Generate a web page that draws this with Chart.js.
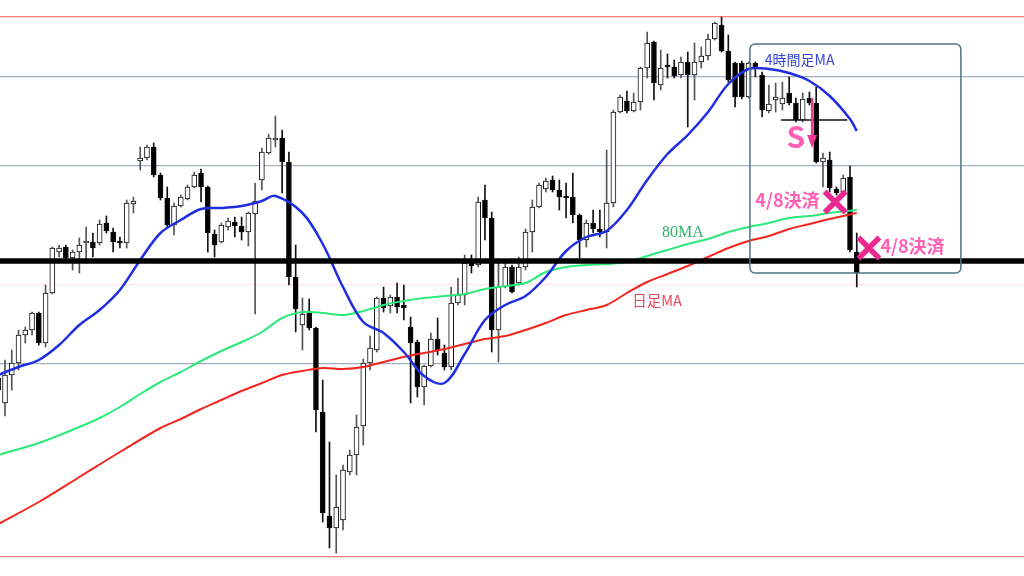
<!DOCTYPE html>
<html lang="ja">
<head>
<meta charset="utf-8">
<title>4時間足チャート</title>
<script src="https://cdn.jsdelivr.net/npm/chart.js@4.4.1/dist/chart.umd.min.js"></script>
<style>
  html, body { margin: 0; padding: 0; background: #fff; }
  canvas { display: block; }
</style>
</head>
<body>
<canvas id="chart" width="1024" height="576"></canvas>
<script>
// 4h candles, oldest first (price units = chart height)
const OPEN = [186,173,201,213,241,246,263,233,283,324, 329,318,324,333,334,333,353,344,335,333,
  372,415,418,429,401,378,351,370,377,389, 403,389,342,334,349,354,350,344,362,396,
  423,436,438,414,299,251,263,248,164,60, 48,56,104,121,150,213,226,278,270,279,
  271,249,234,189,210,237,223,209,273,281, 313,311,376,358,246,289,309,293,309,344,
  369,387,396,386,380,379,361,336,353,347, 344,373,464,475,465,474,508,534,491,511,
  509,501,514,501,514,520,537,551,525,513, 513,479,513,501,465,476,472,483,473,456,
  478,473,414,416,387,384,399,324];
const HIGH = [208,216,226,246,249,264,264,291,329,331, 331,326,338,349,343,356,360,348,339,376,
  379,429,431,433,403,389,373,381,391,404, 407,390,346,353,358,359,359,364,393,428,
  442,460,446,424,331,278,277,249,196,134, 101,111,126,161,217,240,279,289,281,293,
  291,259,236,211,243,258,231,289,298,321, 321,379,391,364,316,316,311,319,347,376,
  393,398,400,396,393,403,362,356,366,366, 426,466,481,485,483,509,544,535,526,522,
  516,519,524,533,529,542,554,559,541,514, 515,514,514,504,491,493,494,499,478,483,
  484,489,423,424,389,401,410,343];
const LOW = [178,160,186,206,233,241,231,229,282,319, 316,306,303,313,319,331,343,324,328,328,
  363,406,416,399,376,349,341,369,376,388, 374,324,319,333,346,339,336,330,262,386,
  422,429,383,291,244,226,246,144,54,28, 23,46,101,101,131,206,224,264,263,263,
  256,173,179,171,209,221,206,206,271,271, 303,309,336,224,214,288,283,291,306,324,
  368,384,384,366,358,353,318,329,343,339, 328,369,463,463,464,466,498,476,486,498,
  498,498,449,476,508,516,536,524,494,469, 477,478,499,459,463,464,466,471,454,454,
  471,413,389,384,381,381,324,289];
const CLOSE = [198,201,213,241,246,263,233,283,328,328, 318,324,331,335,328,352,345,334,333,373,
  375,418,429,401,378,351,370,379,389,401, 389,343,331,351,355,350,344,363,375,424,
  438,438,414,299,267,262,248,166,63,48, 69,106,121,149,213,228,278,268,279,269,
  268,233,189,210,237,226,209,273,281,313, 310,374,358,246,289,309,284,309,344,369,
  391,395,386,379,378,361,336,353,347,344, 373,464,479,465,474,508,533,493,508,509,
  500,514,501,514,520,537,553,525,496,479, 479,513,509,466,472,479,478,473,456,477,
  473,414,418,388,383,398,326,303];

// moving averages, read at candle indices
const MA4H_IDX = [0,3,6,9,12,15,18,21,24,27,30,33,36,39,41,45,48,51,54,57,60,63,66,69,72,75,78,81,84,87,90,93,96,99,102,105,108,111,114,117,120,123,126,127];
const MA4H_VAL = [201,209,216,231,251,266,286,316,343,356,367,368,370,375,380,363,332,289,254,243,224,200,193,222,256,271,280,299,325,339,345,366,396,422,441,464,492,507,507,503,495,480,457,445];
const MA80_IDX = [0,6,12,15,18,21,24,27,30,33,36,39,42,45,48,51,54,57,60,63,66,69,72,75,78,81,84,87,90,93,96,99,102,105,108,111,114,117,120,123,127];
const MA80_VAL = [121,133,149,158,169,182,194,204,215,225,234,244,258,264,263,261,265,271,275,278,280,282,287,290,293,304,309,311,312,314,320,326,332,337,344,349,353,358,360,363,366];
const MADAY_IDX = [0,6,12,18,24,27,30,33,36,39,42,45,48,51,54,57,60,63,66,69,72,75,78,81,84,87,90,93,96,99,102,105,108,111,114,117,120,123,127];
const MADAY_VAL = [52,74,99,124,148,157,167,176,185,193,201,205,208,207,209,214,219,223,227,232,237,240,246,253,261,266,271,283,294,302,310,319,328,335,340,347,352,357,363];

// horizontal levels
const H_LINES = [559, 499, 410, 291, 212, 19];
const H_COLORS = ['#ff7d7d', '#a4aebc', '#a4aebc', '#fbe7ec', '#a4aebc', '#ff7d7d'];
const KEY_LEVEL = 315;

const X_MIN = 0.26, X_MAX = 151.74;
const Y_MIN = 0, Y_MAX = 576;

const bodies = OPEN.map((o, i) => ({ x: i, y: [o, CLOSE[i]] }));
const wicks = OPEN.map((o, i) => ({ x: i, y: [LOW[i], HIGH[i]] }));
const isUp = OPEN.map((o, i) => CLOSE[i] > o);
const pts = (idx, val) => idx.map((x, k) => ({ x, y: val[k] }));

const JP = '"Noto Sans CJK JP", "Noto Sans", sans-serif';

// text, marks and the frame on the right
const overlay = {
  id: 'overlay',
  afterDatasetsDraw(chart) {
    const { ctx, scales: { x, y } } = chart;
    const px = v => x.getPixelForValue(v);
    const py = v => y.getPixelForValue(v);
    ctx.save();

    // rounded frame
    const bx0 = px(111.2), bx1 = px(142.4), by0 = py(532), by1 = py(303), r = 5;
    ctx.beginPath();
    ctx.moveTo(bx0 + r, by0);
    ctx.arcTo(bx1, by0, bx1, by1, r);
    ctx.arcTo(bx1, by1, bx0, by1, r);
    ctx.arcTo(bx0, by1, bx0, by0, r);
    ctx.arcTo(bx0, by0, bx1, by0, r);
    ctx.closePath();
    ctx.strokeStyle = '#4f7584';
    ctx.lineWidth = 1.5;
    ctx.stroke();

    // neckline
    ctx.beginPath();
    ctx.moveTo(px(115.8), py(456));
    ctx.lineTo(px(125.6), py(456));
    ctx.strokeStyle = '#111';
    ctx.lineWidth = 1.3;
    ctx.stroke();

    // sell arrow
    const ax = px(120.4), ay0 = py(478), ay1 = py(428);
    ctx.strokeStyle = '#ee3a96';
    ctx.fillStyle = '#ee3a96';
    ctx.lineWidth = 2.5;
    ctx.beginPath();
    ctx.moveTo(ax, ay0);
    ctx.lineTo(ax, ay1 - 10);
    ctx.stroke();
    ctx.beginPath();
    ctx.moveTo(ax - 5, ay1 - 13);
    ctx.lineTo(ax + 5, ay1 - 13);
    ctx.lineTo(ax, ay1);
    ctx.closePath();
    ctx.fill();

    ctx.textBaseline = 'middle';
    ctx.textAlign = 'left';

    ctx.fillStyle = '#3344dd';
    ctx.font = '14px ' + JP;
    ctx.fillText('4時間足MA', px(113.4), py(516));

    ctx.fillStyle = '#2fb36e';
    ctx.font = '16px "Liberation Serif", "DejaVu Serif", serif';
    ctx.fillText('80MA', px(98.2), py(343));

    ctx.fillStyle = '#e8485c';
    ctx.font = '14.5px ' + JP;
    ctx.fillText('日足MA', px(93.8), py(276));

    ctx.fillStyle = '#ff5fb4';
    ctx.font = 'bold 18px ' + JP;
    ctx.fillText('4/8決済', px(112.0), py(376));
    ctx.fillText('4/8決済', px(130.5), py(330));

    ctx.textAlign = 'center';
    ctx.font = 'bold 30px ' + JP;
    ctx.fillText('S', px(118.0), py(439));

    // exit crosses
    ctx.strokeStyle = '#eb2a91';
    ctx.lineWidth = 5.5;
    [[123.8, 374], [128.8, 328]].forEach(([cx, cy]) => {
      const X = px(cx), Y = py(cy), h = 10.5;
      ctx.beginPath();
      ctx.moveTo(X - h, Y - h); ctx.lineTo(X + h, Y + h);
      ctx.moveTo(X + h, Y - h); ctx.lineTo(X - h, Y + h);
      ctx.stroke();
    });

    ctx.restore();
  }
};

new Chart(document.getElementById('chart'), {
  type: 'bar',
  data: {
    datasets: [
      {
        type: 'line',
        label: 'key level',
        data: [{ x: X_MIN, y: KEY_LEVEL }, { x: X_MAX, y: KEY_LEVEL }],
        borderColor: '#000',
        borderWidth: 5.5,
        pointRadius: 0,
        order: -1,
      },
      {
        type: 'line',
        label: '4時間足MA',
        data: pts(MA4H_IDX, MA4H_VAL),
        borderColor: '#1f2ee0',
        borderWidth: 2.5,
        pointRadius: 0,
        tension: 0.35,
        order: 0,
      },
      {
        type: 'line',
        label: '80MA',
        data: pts(MA80_IDX, MA80_VAL),
        borderColor: '#2bea7a',
        borderWidth: 2,
        pointRadius: 0,
        tension: 0.35,
        order: 0,
      },
      {
        type: 'line',
        label: '日足MA',
        data: pts(MADAY_IDX, MADAY_VAL),
        borderColor: '#f2261e',
        borderWidth: 2,
        pointRadius: 0,
        tension: 0.35,
        order: 0,
      },
      {
        label: 'body',
        data: bodies,
        grouped: false,
        barThickness: 5,
        backgroundColor: isUp.map(u => (u ? '#ffffff' : '#000000')),
        borderColor: '#111',
        borderWidth: 1,
        borderSkipped: false,
        order: 1,
      },
      {
        label: 'wick',
        data: wicks,
        grouped: false,
        barThickness: 1,
        backgroundColor: isUp.map(u => (u ? '#555' : '#111')),
        borderWidth: 0,
        order: 2,
      },
    ],
  },
  options: {
    responsive: false,
    animation: false,
    layout: { padding: 0 },
    plugins: {
      legend: { display: false },
      tooltip: { enabled: false },
    },
    scales: {
      x: {
        type: 'linear',
        min: X_MIN,
        max: X_MAX,
        offset: false,
        display: false,
      },
      y: {
        type: 'linear',
        min: Y_MIN,
        max: Y_MAX,
        afterBuildTicks(scale) {
          scale.ticks = H_LINES.map(v => ({ value: v }));
        },
        ticks: { display: false },
        border: { display: false },
        grid: {
          drawTicks: false,
          color(c) {
            const k = H_LINES.indexOf(c.tick && c.tick.value);
            return k >= 0 ? H_COLORS[k] : 'rgba(0,0,0,0)';
          },
          lineWidth: 1.2,
        },
      },
    },
  },
  plugins: [overlay],
});
</script>
</body>
</html>
